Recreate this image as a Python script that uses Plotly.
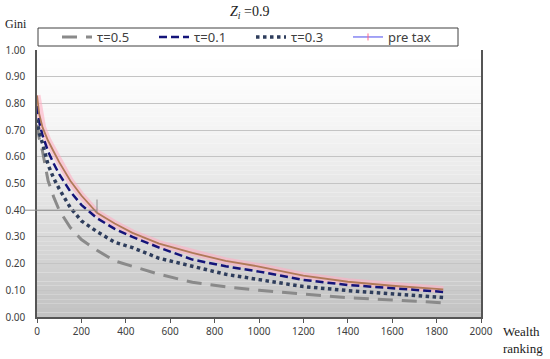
import plotly.graph_objects as go

rank = [0, 10, 25, 50, 75, 100, 150, 200, 270, 350, 430, 550, 700, 850, 1000, 1200, 1400, 1600, 1800, 1830]
gini_pre = [0.83, 0.76, 0.71, 0.66, 0.62, 0.58, 0.51, 0.455, 0.39, 0.35, 0.315, 0.275, 0.24, 0.21, 0.189, 0.155, 0.132, 0.117, 0.105, 0.103]
gini_t01 = [0.79, 0.73, 0.68, 0.62, 0.575, 0.535, 0.47, 0.42, 0.37, 0.33, 0.30, 0.26, 0.215, 0.19, 0.17, 0.139, 0.12, 0.107, 0.095, 0.094]
gini_t03 = [0.74, 0.69, 0.65, 0.57, 0.52, 0.48, 0.41, 0.36, 0.32, 0.28, 0.26, 0.22, 0.19, 0.16, 0.14, 0.114, 0.099, 0.086, 0.074, 0.073]
gini_t05 = [0.72, 0.67, 0.62, 0.51, 0.45, 0.40, 0.335, 0.29, 0.25, 0.21, 0.19, 0.16, 0.13, 0.113, 0.10, 0.086, 0.072, 0.064, 0.054, 0.053]

x_ticks = [0, 200, 400, 600, 800, 1000, 1200, 1400, 1600, 1800, 2000]
y_ticks = [0.0, 0.1, 0.2, 0.3, 0.4, 0.5, 0.6, 0.7, 0.8, 0.9, 1.0]

fig = go.Figure()

# pre tax: pink halo + brown line
fig.add_trace(go.Scatter(x=rank, y=gini_pre, mode="lines", showlegend=False, hoverinfo="skip",
                         line=dict(color="rgba(255,175,195,0.6)", width=7)))
fig.add_trace(go.Scatter(x=rank, y=gini_t05, mode="lines", name="τ=0.5",
                         line=dict(color="#8a8a8a", width=3, dash="15px,9px")))
fig.add_trace(go.Scatter(x=rank, y=gini_t01, mode="lines", name="τ=0.1",
                         line=dict(color="#14147a", width=2.5, dash="8px,4px")))
fig.add_trace(go.Scatter(x=rank, y=gini_t03, mode="lines", name="τ=0.3",
                         line=dict(color="#2e3d5c", width=3.5, dash="dot")))
fig.add_trace(go.Scatter(x=rank, y=gini_pre, mode="lines", showlegend=False,
                         line=dict(color="#b07a58", width=1.8)))
fig.add_trace(go.Scatter(x=[None], y=[None], mode="lines+markers", name="pre tax",
                         line=dict(color="#9a9af5", width=1.8),
                         marker=dict(symbol="line-ns", size=5, line=dict(color="#ff6688", width=1))))

# gradient background bands
n = 60
shapes = []
for i in range(n):
    y0 = i / n
    y1 = (i + 1) / n
    ym = (y0 + y1) / 2
    g = int(round(255 - 62 * (1 - ym) ** 1.4))
    shapes.append(dict(type="rect", xref="paper", yref="y", x0=0, x1=1, y0=y0, y1=y1,
                       fillcolor=f"rgb({g},{g},{g})", line=dict(width=0), layer="below"))
# stray marker line near 0.40
shapes.append(dict(type="line", xref="paper", yref="y", x0=-12 / 444, x1=60 / 444, y0=0.4, y1=0.4,
                   line=dict(color="#8c8c8c", width=1)))
shapes.append(dict(type="line", xref="paper", yref="y", x0=60 / 444, x1=60 / 444, y0=0.39, y1=0.44,
                   line=dict(color="#8c8c8c", width=1)))
# legend frame
shapes.append(dict(type="rect", xref="paper", yref="paper", x0=1 / 444, x1=421 / 444,
                   y0=(317 - 46) / 267, y1=(317 - 28) / 267,
                   fillcolor="white", line=dict(color="#404040", width=1), layer="below"))
fig.update_layout(shapes=shapes)

serif = "Liberation Serif, DejaVu Serif, serif"
fig.update_layout(
    width=550, height=359,
    margin=dict(l=37, r=69, t=50, b=42, autoexpand=False),
    paper_bgcolor="white", plot_bgcolor="white",
    font=dict(family="Noto Sans, Open Sans, sans-serif", size=10, color="#404040"),
    showlegend=True,
    legend=dict(orientation="h", x=20 / 444, y=(317 - 37) / 267, xanchor="left", yanchor="middle",
                borderwidth=0, bgcolor="rgba(0,0,0,0)",
                font=dict(size=13, color="#404040"),
                entrywidth=52, entrywidthmode="pixels",
                itemwidth=30, tracegroupgap=0),
    xaxis=dict(range=[0, 2000], tickvals=x_ticks, ticktext=[str(v) for v in x_ticks], automargin=False,
               showgrid=False, zeroline=False, showline=True, linecolor="#555555", linewidth=1.5,
               ticks="outside", ticklen=4, tickcolor="#555555", tickfont=dict(size=10)),
    yaxis=dict(range=[0, 1.0], tickvals=y_ticks, ticktext=[f"{v:.2f}" for v in y_ticks], automargin=False,
               showgrid=True, gridcolor="#c4c4c4", gridwidth=1, zeroline=False,
               showline=True, linecolor="#555555", linewidth=1.5, mirror=True,
               ticks="", ticklabelstandoff=8, tickfont=dict(size=10)),
    annotations=[
        dict(text="<i>Z<sub>i</sub></i> =0.9", xref="paper", yref="paper", x=(249 - 37) / 444, y=(317 - 12) / 267,
             showarrow=False, xanchor="center", yanchor="middle", font=dict(family=serif, size=14, color="#222")),
        dict(text="Gini", xref="paper", yref="paper", x=-34 / 444, y=(317 - 24) / 267,
             showarrow=False, xanchor="left", yanchor="middle", font=dict(family=serif, size=12, color="#222")),
        dict(text="Wealth<br>ranking", xref="paper", yref="paper", x=(501 - 37) / 444, y=(317 - 340) / 267,
             showarrow=False, xanchor="left", yanchor="middle", align="left",
             font=dict(family=serif, size=13, color="#222")),
    ],
)

fig.write_html("out.html", config={"displayModeBar": False},
               post_script="document.body.style.margin='0';document.body.style.overflow='hidden';")
